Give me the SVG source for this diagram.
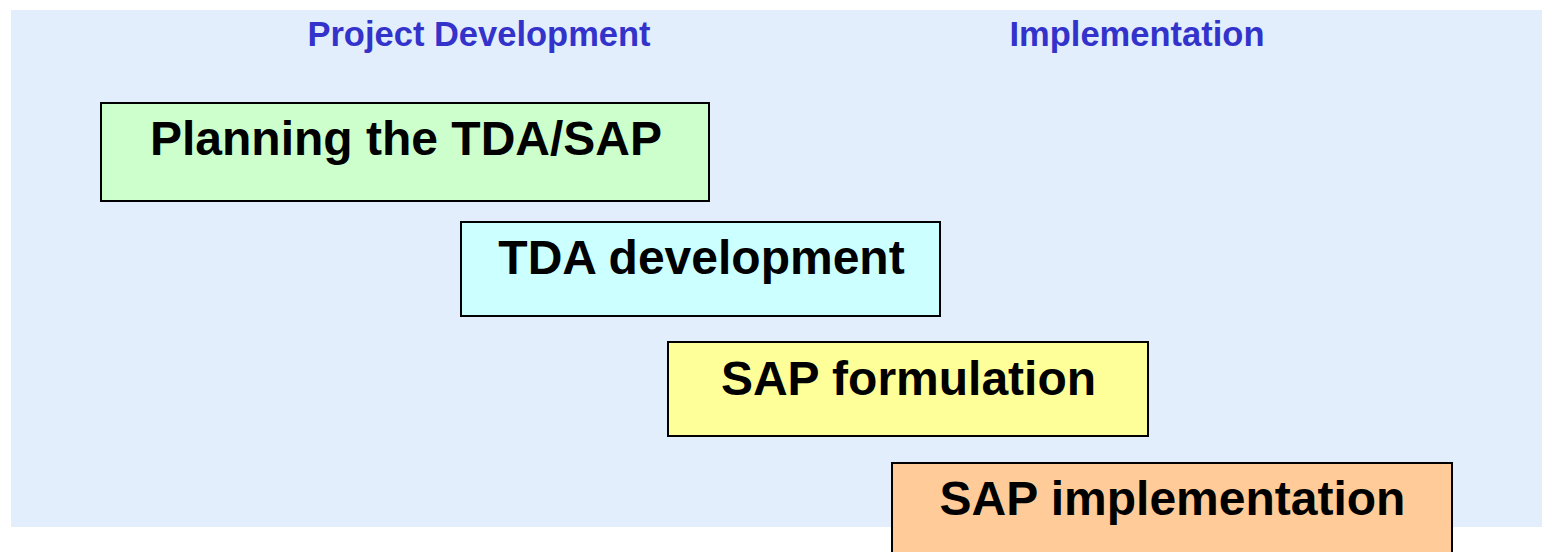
<svg xmlns="http://www.w3.org/2000/svg" width="1542" height="552" viewBox="0 0 1542 552">
<style>
.hdr{font-family:"Liberation Sans",Arial,sans-serif;font-weight:bold;font-size:34.5px;fill:#3333CC;text-anchor:middle}
.box{stroke:#000;stroke-width:2}
.lbl{font-family:"Liberation Sans",Arial,sans-serif;font-weight:bold;font-size:48px;fill:#000;text-anchor:middle}
</style>
<rect width="1542" height="552" fill="#fff"/>
<rect id="background" x="11" y="10" width="1531" height="517" fill="#E3EEFD"/>
<text class="hdr" x="479" y="46">Project Development</text>
<text class="hdr" x="1137" y="46">Implementation</text>
<g id="connectors"></g>
<g id="planning">
<rect class="box" x="101" y="103" width="608" height="98" fill="#CCFFCC"/>
<text class="lbl" x="406" y="155">Planning the TDA/SAP</text>
</g>
<g id="tda">
<rect class="box" x="461" y="222" width="479" height="94" fill="#CCFFFF"/>
<text class="lbl" x="701.5" y="274">TDA development</text>
</g>
<g id="sapform">
<rect class="box" x="668" y="342" width="480" height="94" fill="#FFFF99"/>
<text class="lbl" x="908.5" y="395">SAP formulation</text>
</g>
<g id="sapimpl">
<rect class="box" x="892" y="463" width="560" height="100" fill="#FFCC99"/>
<text class="lbl" x="1172.5" y="515">SAP implementation</text>
</g>
</svg>
